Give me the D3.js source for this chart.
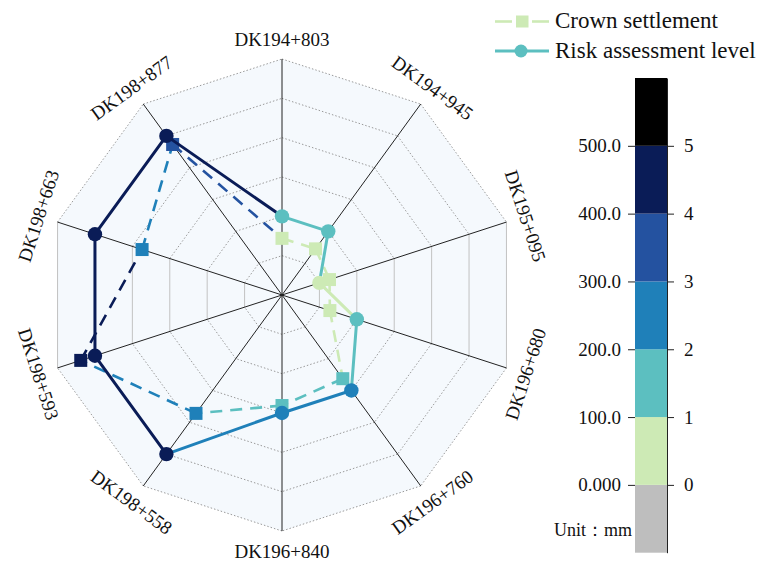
<!DOCTYPE html>
<html>
<head>
<meta charset="utf-8">
<script src="https://cdn.jsdelivr.net/npm/d3@7"></script>
<style>
  body { margin: 0; background: #fff; }
  svg { display: block; font-family: "Liberation Serif", "Times New Roman", serif; }
</style>
</head>
<body>
<svg id="chart" width="764" height="562"></svg>
<script>
// Monitoring sections (clockwise from the top)
const sections = ["DK194+803", "DK194+945", "DK195+095", "DK196+680", "DK196+760",
                  "DK196+840", "DK198+558", "DK198+593", "DK198+663", "DK198+877"];
// Crown settlement per section, mm
const crownSettlement = [44, 45, 27, 28, 163, 181, 272, 438, 274, 373];
// Risk assessment level per section
const riskLevel = [2, 2, 1, 2, 3, 3, 5, 5, 5, 5];
// Colour bands of the settlement scale (mm) and their colours
const bandBreaks = [0, 100, 200, 300, 400, 500];
const bandColors = ["#bebebe", "#cdeab5", "#5cbfc0", "#1f80b9", "#2452a0", "#0a1c57", "#000000"];
const mmTicks = [0, 100, 200, 300, 400, 500];
const levelTicks = [0, 1, 2, 3, 4, 5];

const svg = d3.select("#chart");
const cx = 282, cy = 295, R = 236, nRings = 6;

const bandColor = d3.scaleThreshold().domain(bandBreaks).range(bandColors);
// A level covers the settlement band that ends at its tick
const levelColor = L => bandColor(L * 100 - 50);

const rMM = d3.scaleLinear().domain([-100, 500]).range([0, R]);
const rLevel = d3.scaleLinear().domain([0, nRings]).range([0, R]);
const angle = d3.scaleLinear().domain([0, sections.length]).range([0, 2 * Math.PI]);
const pt = (i, r) => [cx + r * Math.sin(angle(i)), cy - r * Math.cos(angle(i))];

const idx = d3.range(sections.length);

// Background decagon
svg.append("polygon")
  .attr("points", idx.map(i => pt(i, R).join(",")).join(" "))
  .attr("fill", "#f5f9fd");

// Rings: dotted edges, the vertical edges drawn plain
const ringG = svg.append("g");
d3.range(1, nRings + 1).forEach(k => {
  const r = R * k / nRings;
  idx.forEach(i => {
    const a = pt(i, r), b = pt((i + 1) % sections.length, r);
    const vertical = Math.abs(a[0] - b[0]) < 0.5;
    ringG.append("line")
      .attr("x1", a[0]).attr("y1", a[1]).attr("x2", b[0]).attr("y2", b[1])
      .attr("stroke", vertical ? "#c2c2c2" : "#9a9a9a")
      .attr("stroke-width", 1)
      .attr("stroke-dasharray", vertical ? null : "1.5,2");
  });
});

// Spokes
svg.append("g").selectAll("line").data(idx).join("line")
  .attr("x1", cx).attr("y1", cy)
  .attr("x2", i => pt(i, R)[0]).attr("y2", i => pt(i, R)[1])
  .attr("stroke", "#222").attr("stroke-width", 1);

// Section labels, turned to stay readable
svg.append("g").selectAll("text").data(idx).join("text")
  .attr("transform", i => {
    const [x, y] = pt(i, 256);
    let deg = angle(i) * 180 / Math.PI;
    if (deg > 90 && deg < 270) deg -= 180;
    else if (deg >= 270) deg -= 360;
    return `translate(${x},${y}) rotate(${deg})`;
  })
  .attr("text-anchor", "middle")
  .attr("dominant-baseline", "central")
  .attr("font-size", 19)
  .attr("fill", "#111")
  .text(i => sections[i]);

// Crown settlement: dashed segments coloured by the starting section
const csPts = idx.map(i => pt(i, rMM(crownSettlement[i])));
svg.append("g").selectAll("line").data(idx).join("line")
  .attr("x1", i => csPts[i][0]).attr("y1", i => csPts[i][1])
  .attr("x2", i => csPts[(i + 1) % csPts.length][0])
  .attr("y2", i => csPts[(i + 1) % csPts.length][1])
  .attr("stroke", i => bandColor(crownSettlement[i]))
  .attr("stroke-width", 2.6)
  .attr("stroke-dasharray", "12,8");

svg.append("g").selectAll("rect").data(idx).join("rect")
  .attr("x", i => csPts[i][0] - 6.5).attr("y", i => csPts[i][1] - 6.5)
  .attr("width", 13).attr("height", 13)
  .attr("fill", i => bandColor(crownSettlement[i]));

// Risk assessment level: solid segments coloured by the starting section
const rkPts = idx.map(i => pt(i, rLevel(riskLevel[i])));
svg.append("g").selectAll("line").data(idx).join("line")
  .attr("x1", i => rkPts[i][0]).attr("y1", i => rkPts[i][1])
  .attr("x2", i => rkPts[(i + 1) % rkPts.length][0])
  .attr("y2", i => rkPts[(i + 1) % rkPts.length][1])
  .attr("stroke", i => levelColor(riskLevel[i]))
  .attr("stroke-width", 3)
  .attr("stroke-linecap", "round");

svg.append("g").selectAll("circle").data(idx).join("circle")
  .attr("cx", i => rkPts[i][0]).attr("cy", i => rkPts[i][1])
  .attr("r", 7.2)
  .attr("fill", i => levelColor(riskLevel[i]));

// Legend
const lg = svg.append("g");
lg.append("line").attr("x1", 495).attr("x2", 512).attr("y1", 21.5).attr("y2", 21.5)
  .attr("stroke", bandColors[1]).attr("stroke-width", 2.6);
lg.append("line").attr("x1", 532).attr("x2", 549).attr("y1", 21.5).attr("y2", 21.5)
  .attr("stroke", bandColors[1]).attr("stroke-width", 2.6);
lg.append("rect").attr("x", 516).attr("y", 15.5).attr("width", 12.5).attr("height", 12)
  .attr("fill", bandColors[1]);
lg.append("text").attr("x", 555).attr("y", 27.5).attr("font-size", 23).attr("fill", "#111")
  .text("Crown settlement");
lg.append("line").attr("x1", 495).attr("x2", 549).attr("y1", 51).attr("y2", 51)
  .attr("stroke", bandColors[2]).attr("stroke-width", 2.8);
lg.append("circle").attr("cx", 521).attr("cy", 51).attr("r", 6.5).attr("fill", bandColors[2]);
lg.append("text").attr("x", 555).attr("y", 58).attr("font-size", 23).attr("fill", "#111")
  .text("Risk assessment level");

// Colour bar
const cbX = 635, cbW = 32, cbTop = 78, cbBottom = 552.7;
const yMM = d3.scaleLinear().domain([-100, 600]).range([cbBottom, cbTop]);
const yLevel = d3.scaleLinear().domain([-1, 6]).range([cbBottom, cbTop]);
const bandEdges = [-100, ...bandBreaks, 600];
svg.append("g").selectAll("rect").data(bandColors).join("rect")
  .attr("x", cbX).attr("width", cbW)
  .attr("y", (c, i) => yMM(bandEdges[i + 1]))
  .attr("height", (c, i) => yMM(bandEdges[i]) - yMM(bandEdges[i + 1]))
  .attr("fill", c => c);

const leftAxis = svg.append("g").attr("transform", `translate(${cbX},0)`)
  .call(d3.axisLeft(yMM).tickValues(mmTicks).tickSize(7).tickSizeOuter(0)
    .tickFormat(v => v === 0 ? "0.000" : d3.format(".1f")(v)));
leftAxis.select(".domain").remove();

const rightAxis = svg.append("g").attr("transform", `translate(${cbX + cbW},0)`)
  .call(d3.axisRight(yLevel).tickValues(levelTicks).tickSize(7).tickSizeOuter(0)
    .tickFormat(d3.format("d")));

[leftAxis, rightAxis].forEach(g => {
  g.attr("font-family", null).attr("font-size", null);
  g.selectAll("text").attr("font-size", 19).attr("fill", "#111");
  g.selectAll(".tick line").attr("stroke", "#222");
  g.select(".domain").attr("stroke", "#222");
});
leftAxis.selectAll("text").attr("x", -14);
rightAxis.selectAll("text").attr("x", 17);

svg.append("text").attr("x", 632).attr("y", 536).attr("text-anchor", "end")
  .attr("font-size", 18).attr("fill", "#111")
  .text("Unit：mm");
</script>
</body>
</html>
